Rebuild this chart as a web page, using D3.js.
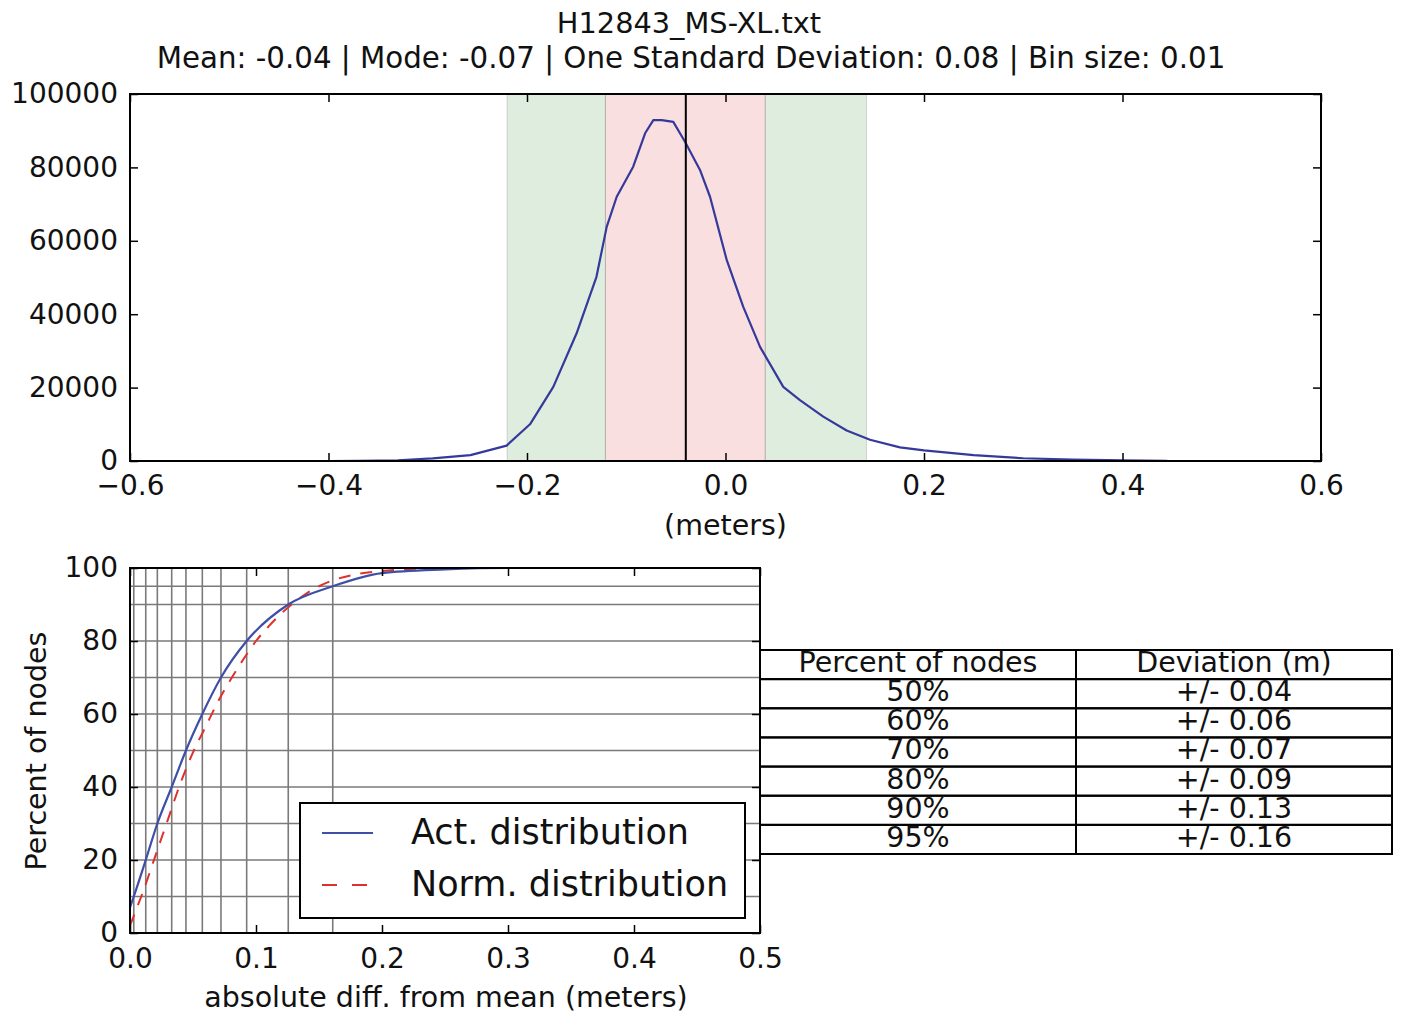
<!DOCTYPE html>
<html>
<head>
<meta charset="utf-8">
<script src="https://cdn.jsdelivr.net/npm/d3@7"></script>
<style>
  html, body { margin: 0; padding: 0; background: #ffffff; }
  svg { display: block; font-family: "DejaVu Sans", sans-serif; }
</style>
</head>
<body>
<svg id="chart" width="1403" height="1015"></svg>
<script>
// ---------------- DATA ----------------
const titleLine1 = "H12843_MS-XL.txt";
const titleLine2 = "Mean: -0.04 | Mode: -0.07 | One Standard Deviation: 0.08 | Bin size: 0.01";

// histogram (top) – deviation in meters vs node count
const histX = [-0.40, -0.37, -0.33, -0.295, -0.257, -0.2205, -0.197, -0.1735, -0.150, -0.130, -0.1197, -0.1096,
  -0.093, -0.081, -0.0727, -0.0643, -0.0526, -0.0408, -0.0257, -0.0156, 0.0012, 0.0179, 0.0348, 0.0582,
  0.075, 0.0985, 0.1221, 0.1456, 0.1758, 0.20, 0.25, 0.30, 0.35, 0.40, 0.445];
const histY = [0, 50, 200, 700, 1600, 4200, 10000, 20200, 34800, 50200, 63800, 72000,
  80200, 89300, 92900, 92900, 92400, 87000, 79300, 72000, 54800, 42000, 31100, 20200,
  16600, 12100, 8300, 5800, 3700, 2900, 1600, 750, 400, 150, 30];
const meanValue = -0.04;
const bandOuter = [-0.220, 0.142];
const bandInner = [-0.121, 0.040];
const topXTicks = [-0.6, -0.4, -0.2, 0.0, 0.2, 0.4, 0.6];
const topYTicks = [0, 20000, 40000, 60000, 80000, 100000];
const topXLabel = "(meters)";

// cumulative (bottom)
const cdfX = [0, 0.003, 0.0125, 0.0217, 0.0331, 0.0444, 0.0574, 0.0722, 0.0926, 0.1256, 0.1609, 0.20, 0.25, 0.30, 0.45];
const cdfY = [7, 10, 20, 30, 40, 50, 60, 70, 80, 90, 95, 98.6, 99.6, 100, 100];
const normX = [0, 0.005, 0.01, 0.02, 0.03, 0.04, 0.05, 0.06, 0.07, 0.08, 0.09, 0.10, 0.11, 0.12, 0.13, 0.14,
  0.15, 0.16, 0.18, 0.20, 0.22, 0.25];
const normY = [2, 6.5, 11, 21, 31, 41, 49.5, 56.5, 63.5, 69.5, 75, 80, 84, 87.5, 90.5, 93,
  95, 96.5, 98.3, 99.2, 99.7, 100];
const gridX = [0.003, 0.0125, 0.0217, 0.0331, 0.0444, 0.0574, 0.0722, 0.0926, 0.1256, 0.1609];
const gridY = [10, 20, 30, 40, 50, 60, 70, 80, 90, 95];
const botXTicks = [0.0, 0.1, 0.2, 0.3, 0.4, 0.5];
const botYTicks = [0, 20, 40, 60, 80, 100];
const botXLabel = "absolute diff. from mean (meters)";
const botYLabel = "Percent of nodes";
const legendLabels = ["Act. distribution", "Norm. distribution"];

// table
const tableHeader = ["Percent of nodes", "Deviation (m)"];
const tablePercent = ["50%", "60%", "70%", "80%", "90%", "95%"];
const tableDeviation = ["+/- 0.04", "+/- 0.06", "+/- 0.07", "+/- 0.09", "+/- 0.13", "+/- 0.16"];

// ---------------- DRAW ----------------
const svg = d3.select("#chart");
const FONT = "DejaVu Sans, sans-serif";
const TICK_FS = 28, LABEL_FS = 28.5;
const BLUE = "#35399a", RED = "#e0302c";

// Titles
svg.append("text").attr("x", 689).attr("y", 33).attr("text-anchor", "middle")
  .attr("font-size", 28.8).attr("fill", "#111").text(titleLine1);
svg.append("text").attr("x", 691).attr("y", 68).attr("text-anchor", "middle")
  .attr("font-size", 29.3).attr("fill", "#111").text(titleLine2);

function styleAxis(g, fs) {
  g.select(".domain").remove();
  g.selectAll(".tick line").attr("stroke", "#000").attr("stroke-width", 1.5);
  g.selectAll(".tick text").attr("font-size", fs).attr("font-family", FONT).attr("fill", "#111");
}

// ---- top chart ----
const T = { l: 130, r: 1321, t: 94, b: 461 };
const xTop = d3.scaleLinear().domain([-0.6, 0.6]).range([T.l, T.r]);
const yTop = d3.scaleLinear().domain([0, 100000]).range([T.b, T.t]);
const topG = svg.append("g");

topG.append("rect").attr("x", xTop(bandOuter[0])).attr("y", T.t)
  .attr("width", xTop(bandOuter[1]) - xTop(bandOuter[0])).attr("height", T.b - T.t)
  .attr("fill", "#dfeddf").attr("stroke", "rgba(0,0,0,0.15)").attr("stroke-width", 1);
topG.append("rect").attr("x", xTop(bandInner[0])).attr("y", T.t)
  .attr("width", xTop(bandInner[1]) - xTop(bandInner[0])).attr("height", T.b - T.t)
  .attr("fill", "#fadfe0").attr("stroke", "rgba(0,0,0,0.25)").attr("stroke-width", 1);

const histData = histX.map((x, i) => [x, histY[i]]);
topG.append("path").datum(histData)
  .attr("d", d3.line().x(d => xTop(d[0])).y(d => yTop(d[1])))
  .attr("fill", "none").attr("stroke", BLUE).attr("stroke-width", 2.2).attr("stroke-linejoin", "round");

topG.append("line").attr("x1", xTop(meanValue)).attr("x2", xTop(meanValue))
  .attr("y1", T.t).attr("y2", T.b).attr("stroke", "#000").attr("stroke-width", 2);

// axes
topG.append("g").attr("transform", `translate(0,${T.b})`)
  .call(d3.axisBottom(xTop).tickValues(topXTicks).tickFormat(d3.format(".1f")).tickSize(-8).tickSizeOuter(0).tickPadding(14))
  .call(g => styleAxis(g, TICK_FS));
topG.append("g").attr("transform", `translate(0,${T.t})`)
  .call(d3.axisTop(xTop).tickValues(topXTicks).tickFormat("").tickSize(-8).tickSizeOuter(0))
  .call(g => styleAxis(g, TICK_FS));
topG.append("g").attr("transform", `translate(${T.l},0)`)
  .call(d3.axisLeft(yTop).tickValues(topYTicks).tickFormat(d3.format("d")).tickSize(-8).tickSizeOuter(0).tickPadding(12))
  .call(g => styleAxis(g, TICK_FS));
topG.append("g").attr("transform", `translate(${T.r},0)`)
  .call(d3.axisRight(yTop).tickValues(topYTicks).tickFormat("").tickSize(-8).tickSizeOuter(0))
  .call(g => styleAxis(g, TICK_FS));
topG.append("rect").attr("x", T.l).attr("y", T.t).attr("width", T.r - T.l).attr("height", T.b - T.t)
  .attr("fill", "none").attr("stroke", "#000").attr("stroke-width", 2);
topG.append("text").attr("x", (T.l + T.r) / 2).attr("y", 535).attr("text-anchor", "middle")
  .attr("font-size", LABEL_FS).attr("fill", "#111").text(topXLabel);

// ---- bottom chart ----
const B = { l: 130, r: 760, t: 568, b: 933 };
const xBot = d3.scaleLinear().domain([0, 0.5]).range([B.l, B.r]);
const yBot = d3.scaleLinear().domain([0, 100]).range([B.b, B.t]);
const botG = svg.append("g");

botG.append("defs").append("clipPath").attr("id", "botclip")
  .append("rect").attr("x", B.l).attr("y", B.t - 2).attr("width", B.r - B.l).attr("height", B.b - B.t + 2);

botG.selectAll("line.gx").data(gridX).join("line").attr("class", "gx")
  .attr("x1", d => xBot(d)).attr("x2", d => xBot(d)).attr("y1", B.t).attr("y2", B.b)
  .attr("stroke", "#7a7a7a").attr("stroke-width", 1.6);
botG.selectAll("line.gy").data(gridY).join("line").attr("class", "gy")
  .attr("x1", B.l).attr("x2", B.r).attr("y1", d => yBot(d)).attr("y2", d => yBot(d))
  .attr("stroke", "#7a7a7a").attr("stroke-width", 1.6);

const cdfData = cdfX.map((x, i) => [x, cdfY[i]]);
const normData = normX.map((x, i) => [x, normY[i]]);
const lineB = d3.line().x(d => xBot(d[0])).y(d => yBot(d[1])).curve(d3.curveMonotoneX);
botG.append("path").datum(normData).attr("d", lineB).attr("clip-path", "url(#botclip)")
  .attr("fill", "none").attr("stroke", RED).attr("stroke-width", 2).attr("stroke-dasharray", "12,10");
botG.append("path").datum(cdfData).attr("d", lineB).attr("clip-path", "url(#botclip)")
  .attr("fill", "none").attr("stroke", "#3e4fa8").attr("stroke-width", 2.2);

botG.append("g").attr("transform", `translate(0,${B.b})`)
  .call(d3.axisBottom(xBot).tickValues(botXTicks).tickFormat(d3.format(".1f")).tickSize(-8).tickSizeOuter(0).tickPadding(15))
  .call(g => styleAxis(g, TICK_FS));
botG.append("g").attr("transform", `translate(0,${B.t})`)
  .call(d3.axisTop(xBot).tickValues(botXTicks).tickFormat("").tickSize(-8).tickSizeOuter(0))
  .call(g => styleAxis(g, TICK_FS));
botG.append("g").attr("transform", `translate(${B.l},0)`)
  .call(d3.axisLeft(yBot).tickValues(botYTicks).tickFormat(d3.format("d")).tickSize(-8).tickSizeOuter(0).tickPadding(12))
  .call(g => styleAxis(g, TICK_FS));
botG.append("g").attr("transform", `translate(${B.r},0)`)
  .call(d3.axisRight(yBot).tickValues(botYTicks).tickFormat("").tickSize(-8).tickSizeOuter(0))
  .call(g => styleAxis(g, TICK_FS));

// legend
const leg = botG.append("g");
leg.append("rect").attr("x", 300).attr("y", 803).attr("width", 445).attr("height", 115)
  .attr("fill", "#fff").attr("stroke", "#000").attr("stroke-width", 2);
const legY = [833, 885];
leg.append("line").attr("x1", 322).attr("x2", 373).attr("y1", legY[0]).attr("y2", legY[0])
  .attr("stroke", "#3e4fa8").attr("stroke-width", 2);
leg.append("line").attr("x1", 322).attr("x2", 375).attr("y1", legY[1]).attr("y2", legY[1])
  .attr("stroke", RED).attr("stroke-width", 2).attr("stroke-dasharray", "15,15");
leg.selectAll("text").data(legendLabels).join("text")
  .attr("x", 411).attr("y", (d, i) => legY[i] + 11).attr("font-size", 35).attr("fill", "#111").text(d => d);

botG.append("rect").attr("x", B.l).attr("y", B.t).attr("width", B.r - B.l).attr("height", B.b - B.t)
  .attr("fill", "none").attr("stroke", "#000").attr("stroke-width", 2);
botG.append("text").attr("x", 446).attr("y", 1007).attr("text-anchor", "middle")
  .attr("font-size", LABEL_FS).attr("fill", "#111").text(botXLabel);
botG.append("text").attr("transform", "translate(46,751) rotate(-90)").attr("text-anchor", "middle")
  .attr("font-size", LABEL_FS).attr("fill", "#111").text(botYLabel);

// ---- table ----
const rows = [tableHeader].concat(tablePercent.map((p, i) => [p, tableDeviation[i]]));
const rowScale = d3.scaleBand().domain(d3.range(rows.length)).range([650, 854]);
const colScale = d3.scaleBand().domain([0, 1]).range([760, 1392]);
const tbl = svg.append("g");
rows.forEach((r, i) => {
  r.forEach((cell, j) => {
    tbl.append("rect").attr("x", colScale(j)).attr("y", rowScale(i))
      .attr("width", colScale.bandwidth()).attr("height", rowScale.bandwidth())
      .attr("fill", "none").attr("stroke", "#000").attr("stroke-width", 2);
    tbl.append("text").attr("x", colScale(j) + colScale.bandwidth() / 2).attr("y", rowScale(i) + 22)
      .attr("text-anchor", "middle").attr("font-size", LABEL_FS).attr("fill", "#111").text(cell);
  });
});
</script>
</body>
</html>
